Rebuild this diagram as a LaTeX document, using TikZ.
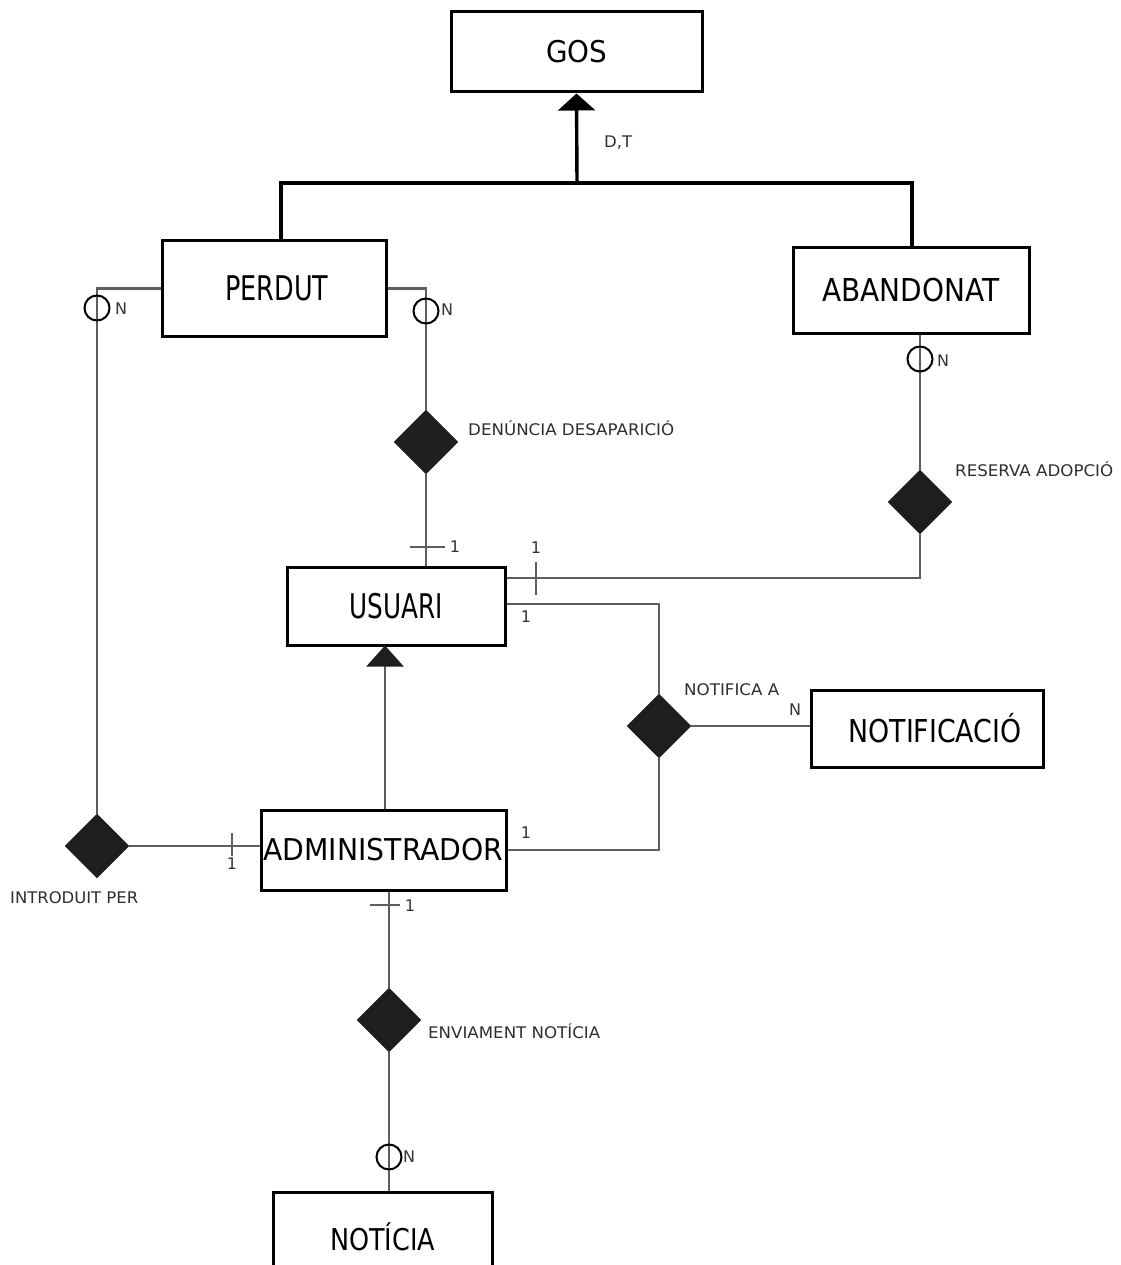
\documentclass[tikz,border=0pt]{standalone}
\usepackage{fontspec}
\usepackage{graphicx}
\setmainfont{DejaVu Sans}
\usetikzlibrary{shapes.geometric,arrows.meta,calc}

\definecolor{linkgray}{HTML}{5E5E5E}
\definecolor{labelgray}{HTML}{2E2E2E}
\definecolor{relfill}{HTML}{1E1E1E}

% entity caption squeezed to a given width
\newcommand{\ename}[3]{\resizebox{#1pt}{\height}{\fontsize{#2}{#2}\selectfont #3}}

\tikzset{
  entity/.style={draw=black, line width=3pt, fill=white, inner sep=0pt},
  rel/.style={diamond, fill=relfill, draw=relfill, minimum width=64pt, minimum height=64pt, inner sep=0pt},
  link/.style={draw=linkgray, line width=2.3pt},
  isa/.style={draw=black, line width=3.4pt},
  relname/.style={text=labelgray, inner sep=0pt, anchor=west},
  card/.style={font=\fontsize{16}{16}\selectfont, inner sep=0pt, text=black!80},
  optmark/.style={circle, draw=black, line width=2pt, minimum size=25pt, inner sep=0pt},
  tick/.style={draw=linkgray, line width=2.3pt},
}

\begin{document}
\begin{tikzpicture}[x=1pt, y=-1pt]
\useasboundingbox (0,0) rectangle (1120,1265);

% entities
\node[entity, minimum width=251pt, minimum height=80pt] (gos) at (576.5,52) {\ename{61}{30}{GOS}};
\node[entity, minimum width=224pt, minimum height=95pt] (perdut) at (274,288.5) {\hspace*{6pt}\ename{103}{34}{PERDUT}};
\node[entity, minimum width=236pt, minimum height=85pt] (abandonat) at (911,290.5) {\ename{177}{31.5}{ABANDONAT}};
\node[entity, minimum width=218pt, minimum height=78pt] (usuari) at (396,606) {\ename{93}{34}{USUARI}};
\node[entity, minimum width=232pt, minimum height=77pt] (notificacio) at (927,728.5) {\hspace*{16pt}\ename{173}{31.5}{NOTIFICACIÓ}};
\node[entity, minimum width=245pt, minimum height=80pt] (admin) at (383.5,850) {\ename{240}{30}{ADMINISTRADOR}};
\node[entity, minimum width=219pt, minimum height=90pt] (noticia) at (382.5,1237) {\ename{105}{30}{NOTÍCIA}};

% relationships
\node[rel] (denuncia) at (426,442) {};
\node[rel] (reserva) at (920,502) {};
\node[rel] (notifica) at (659,726) {};
\node[rel] (introduit) at (97,846) {};
\node[rel] (enviament) at (389,1020) {};

% relationship names
\node[relname] (tdenuncia) at (468,428) {\ename{206}{16}{DENÚNCIA DESAPARICIÓ}};
\node[relname] (treserva) at (955,469) {\ename{158}{16}{RESERVA ADOPCIÓ}};
\node[relname] (tnotifica) at (684,690) {\ename{95}{16}{NOTIFICA A}};
\node[relname] (tintroduit) at (10,898) {\ename{128}{16}{INTRODUIT PER}};
\node[relname] (tenviament) at (428,1031) {\ename{172}{16}{ENVIAMENT NOTÍCIA}};
\node[relname] (tdt) at (604,143) {\ename{28}{16}{D,T}};

% generalisation of GOS
\coordinate (hub) at (577,183);
\draw[isa, line cap=rect] ([xshift=7pt]perdut.north) |- (hub) -| ([xshift=1pt]abandonat.north);
\draw[isa, -{Triangle[width=37pt,length=17pt]}] (hub) -- (gos.south);

% USUARI <- ADMINISTRADOR
\draw[link, -{Triangle[width=37pt,length=21pt,color=relfill]}, shorten >=-1pt] ([xshift=1.5pt]admin.north) -- ([xshift=1.5pt]admin.north |- usuari.south);

% PERDUT / ADMINISTRADOR : INTRODUIT PER
\draw[link] (perdut.west) -| (introduit.north);
\draw[link] (introduit.east) -- (introduit.east -| admin.west);

% PERDUT / USUARI : DENUNCIA DESAPARICIO
\draw[link] (perdut.east) -| (denuncia.north);
\draw[link] (denuncia.south) -- (denuncia.south |- usuari.north);

% ABANDONAT / USUARI : RESERVA ADOPCIO
\draw[link] (reserva.north |- abandonat.south) -- (reserva.north);
\draw[link] (reserva.south) |- ([yshift=28pt]usuari.east);

% USUARI / ADMINISTRADOR / NOTIFICACIO : NOTIFICA A
\draw[link] ([yshift=2pt]usuari.east) -| (notifica.north);
\draw[link] (notifica.east) -- (notifica.east -| notificacio.west);
\draw[link] (notifica.south) |- (admin.east);

% ADMINISTRADOR / NOTICIA : ENVIAMENT NOTICIA
\draw[link] (enviament.north |- admin.south) -- (enviament.north);
\draw[link] (enviament.south) -- (enviament.south |- noticia.north);

% optional-many marks
\node[optmark] (o1) at (97,308) {};
\node[optmark] (o2) at (426,311) {};
\node[optmark] (o3) at (920,359) {};
\node[optmark] (o4) at (389,1157) {};
\node[card, anchor=west] (n1) at (115,309) {N};
\node[card, anchor=west] (n2) at (441,310) {N};
\node[card, anchor=west] (n3) at (937,361) {N};
\node[card, anchor=west] (n4) at (403,1157) {N};
\node[card] (n5) at (795,710) {N};

% one marks
\draw[tick] (410,547) -- (445,547);
\node[card] (c1) at (455,547) {1};
\draw[tick] (536,562) -- (536,595);
\node[card] (c2) at (536,548) {1};
\node[card] (c3) at (526,617) {1};
\node[card] (c4) at (526,833) {1};
\draw[tick] (232,833) -- (232,856);
\node[card] (c5) at (232,864) {1};
\draw[tick] (370,905) -- (400,905);
\node[card] (c6) at (410,906) {1};
\end{tikzpicture}
\end{document}
